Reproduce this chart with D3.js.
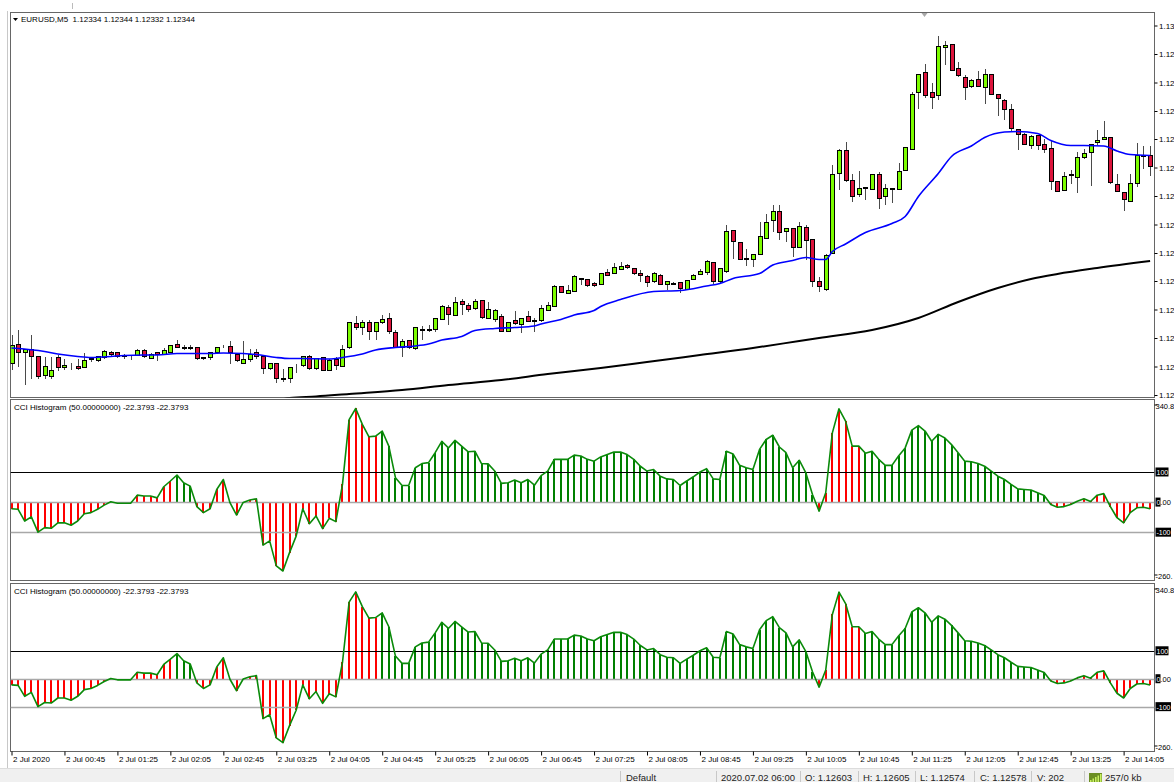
<!DOCTYPE html>
<html>
<head>
<meta charset="utf-8">
<script src="https://cdn.jsdelivr.net/npm/d3@7"></script>
<style>
html, body { margin: 0; padding: 0; background: #fff; overflow: hidden; }
svg { display: block; font-family: "Liberation Sans", Arial, sans-serif; }
</style>
</head>
<body>
<svg id="chart" width="1174" height="782"></svg>
<script>
// EURUSD M5, 2 Jul 2020, bars 00:05 .. 14:25
const open = [
 1.12333,1.12371,1.12355,1.12361,1.12347,1.12311,1.12307,1.12345,1.12325,1.12326,
 1.12327,1.12325,1.12343,1.12339,1.12345,1.12355,1.12355,1.12348,1.12349,1.12349,
 1.12360,1.12345,1.12355,1.12353,1.12355,1.12373,1.12365,1.12366,1.12365,1.12344,
 1.12345,1.12355,1.12367,1.12368,1.12352,1.12333,1.12343,1.12355,1.12347,1.12323,
 1.12333,1.12303,1.12303,1.12328,1.12328,1.12347,1.12323,1.12345,1.12320,1.12341,
 1.12328,1.12365,1.12413,1.12407,1.12415,1.12397,1.12415,1.12423,1.12397,1.12367,
 1.12379,1.12363,1.12401,1.12402,1.12401,1.12421,1.12445,1.12428,1.12457,1.12450,
 1.12443,1.12459,1.12423,1.12423,1.12427,1.12398,1.12419,1.12412,1.12428,1.12419,
 1.12419,1.12441,1.12448,1.12487,1.12475,1.12477,1.12503,1.12501,1.12495,1.12492,
 1.12515,1.12513,1.12523,1.12530,1.12523,1.12513,1.12508,1.12497,1.12510,1.12492,
 1.12492,1.12496,1.12483,1.12501,1.12513,1.12517,1.12535,1.12497,1.12518,1.12599,
 1.12575,1.12543,1.12543,1.12552,1.12585,1.12619,1.12637,1.12598,1.12603,1.12567,
 1.12607,1.12581,1.12497,1.12481,1.12553,1.12713,1.12759,1.12700,1.12672,1.12685,
 1.12681,1.12712,1.12667,1.12682,1.12681,1.12720,1.12761,1.12875,1.12915,1.12875,
 1.12870,1.12965,1.12973,1.12923,1.12905,1.12887,1.12901,1.12885,1.12911,1.12871,
 1.12861,1.12841,1.12802,1.12792,1.12771,1.12790,1.12773,1.12763,1.12697,1.12680,
 1.12710,1.12705,1.12745,1.12755,1.12775,1.12781,1.12785,1.12691,1.12675,1.12658,
 1.12695,1.12748,1.12749
];
const high = [
 1.12390,1.12400,1.12363,1.12390,1.12347,1.12347,1.12347,1.12351,1.12343,1.12335,
 1.12343,1.12355,1.12347,1.12349,1.12361,1.12358,1.12355,1.12353,1.12351,1.12362,
 1.12363,1.12355,1.12355,1.12365,1.12371,1.12380,1.12371,1.12371,1.12365,1.12347,
 1.12355,1.12367,1.12370,1.12379,1.12353,1.12378,1.12363,1.12362,1.12347,1.12335,
 1.12333,1.12323,1.12325,1.12333,1.12349,1.12350,1.12345,1.12347,1.12342,1.12347,
 1.12370,1.12417,1.12428,1.12420,1.12420,1.12415,1.12430,1.12435,1.12401,1.12383,
 1.12381,1.12405,1.12408,1.12410,1.12423,1.12450,1.12450,1.12467,1.12463,1.12455,
 1.12463,1.12459,1.12457,1.12443,1.12433,1.12417,1.12439,1.12423,1.12439,1.12425,
 1.12451,1.12457,1.12490,1.12489,1.12491,1.12510,1.12505,1.12503,1.12497,1.12515,
 1.12523,1.12535,1.12537,1.12532,1.12525,1.12520,1.12510,1.12517,1.12512,1.12497,
 1.12497,1.12496,1.12500,1.12512,1.12523,1.12541,1.12537,1.12523,1.12611,1.12600,
 1.12575,1.12563,1.12552,1.12617,1.12633,1.12650,1.12650,1.12603,1.12603,1.12617,
 1.12610,1.12581,1.12507,1.12553,1.12730,1.12763,1.12777,1.12713,1.12719,1.12687,
 1.12713,1.12717,1.12692,1.12685,1.12735,1.12765,1.12877,1.12912,1.12933,1.12895,
 1.12988,1.12978,1.12973,1.12937,1.12910,1.12902,1.12918,1.12923,1.12911,1.12871,
 1.12863,1.12853,1.12802,1.12795,1.12790,1.12790,1.12783,1.12780,1.12697,1.12717,
 1.12720,1.12757,1.12763,1.12771,1.12800,1.12818,1.12787,1.12713,1.12675,1.12713,
 1.12775,1.12768,1.12768
];
const low = [
 1.12320,1.12327,1.12290,1.12303,1.12302,1.12303,1.12302,1.12318,1.12320,1.12320,
 1.12321,1.12325,1.12337,1.12337,1.12343,1.12347,1.12345,1.12343,1.12340,1.12348,
 1.12345,1.12344,1.12339,1.12351,1.12354,1.12365,1.12361,1.12361,1.12340,1.12341,
 1.12341,1.12354,1.12365,1.12333,1.12337,1.12333,1.12337,1.12343,1.12312,1.12321,
 1.12295,1.12297,1.12295,1.12315,1.12327,1.12320,1.12320,1.12318,1.12318,1.12321,
 1.12327,1.12363,1.12401,1.12390,1.12380,1.12380,1.12413,1.12393,1.12365,1.12347,
 1.12363,1.12360,1.12380,1.12397,1.12397,1.12420,1.12410,1.12428,1.12430,1.12437,
 1.12440,1.12423,1.12422,1.12417,1.12397,1.12396,1.12410,1.12395,1.12417,1.12397,
 1.12417,1.12440,1.12446,1.12475,1.12475,1.12477,1.12490,1.12487,1.12487,1.12490,
 1.12508,1.12512,1.12520,1.12523,1.12511,1.12497,1.12487,1.12495,1.12490,1.12481,
 1.12490,1.12475,1.12480,1.12500,1.12512,1.12510,1.12493,1.12493,1.12515,1.12543,
 1.12540,1.12528,1.12527,1.12552,1.12585,1.12597,1.12580,1.12577,1.12547,1.12567,
 1.12540,1.12487,1.12477,1.12479,1.12553,1.12681,1.12697,1.12657,1.12667,1.12660,
 1.12680,1.12643,1.12650,1.12655,1.12681,1.12718,1.12760,1.12843,1.12865,1.12843,
 1.12861,1.12930,1.12920,1.12907,1.12860,1.12885,1.12887,1.12853,1.12870,1.12828,
 1.12821,1.12797,1.12760,1.12770,1.12763,1.12761,1.12755,1.12680,1.12677,1.12679,
 1.12693,1.12675,1.12743,1.12688,1.12770,1.12781,1.12693,1.12677,1.12639,1.12657,
 1.12687,1.12723,1.12708
];
const close = [
 1.12370,1.12355,1.12361,1.12347,1.12307,1.12329,1.12320,1.12325,1.12330,1.12325,
 1.12322,1.12340,1.12344,1.12347,1.12357,1.12351,1.12347,1.12349,1.12349,1.12360,
 1.12347,1.12353,1.12351,1.12360,1.12369,1.12366,1.12366,1.12365,1.12343,1.12345,
 1.12355,1.12365,1.12366,1.12355,1.12339,1.12341,1.12353,1.12347,1.12323,1.12333,
 1.12303,1.12304,1.12325,1.12329,1.12347,1.12323,1.12343,1.12320,1.12340,1.12328,
 1.12363,1.12415,1.12405,1.12417,1.12397,1.12415,1.12421,1.12397,1.12367,1.12378,
 1.12365,1.12405,1.12402,1.12399,1.12423,1.12448,1.12430,1.12455,1.12452,1.12443,
 1.12457,1.12425,1.12442,1.12440,1.12398,1.12415,1.12413,1.12423,1.12418,1.12418,
 1.12443,1.12450,1.12488,1.12475,1.12480,1.12507,1.12500,1.12490,1.12491,1.12513,
 1.12510,1.12525,1.12528,1.12525,1.12513,1.12508,1.12497,1.12513,1.12492,1.12497,
 1.12495,1.12485,1.12500,1.12510,1.12518,1.12538,1.12497,1.12523,1.12598,1.12577,
 1.12541,1.12544,1.12552,1.12588,1.12617,1.12637,1.12595,1.12603,1.12565,1.12608,
 1.12581,1.12497,1.12487,1.12550,1.12712,1.12759,1.12700,1.12667,1.12685,1.12686,
 1.12712,1.12663,1.12683,1.12683,1.12717,1.12765,1.12872,1.12912,1.12870,1.12865,
 1.12968,1.12970,1.12921,1.12908,1.12885,1.12900,1.12887,1.12911,1.12871,1.12863,
 1.12842,1.12802,1.12792,1.12772,1.12788,1.12770,1.12763,1.12697,1.12678,1.12708,
 1.12711,1.12745,1.12753,1.12771,1.12780,1.12785,1.12695,1.12678,1.12660,1.12695,
 1.12750,1.12749,1.12728
];

// moving averages, read at bar positions
const maFastBars = [0,5,7,10,12,15,17,20,22,25,27,30,32,35,37,40,42,44,48,50,53,55,58,61,63,65,68,70,73,76,79,80,83,85,88,89,92,97,101,105,107,109,113,115,118,120,122,123,124,126,129,133,135,137,140,142,145,147,150,152,155,157,160,162,165,167,169,172];
const maFastVals = [1.12364,1.12357,1.12352,1.12347,1.12345,1.12347,1.12349,1.12350,1.12350,1.12353,1.12353,1.12353,1.12354,1.12353,1.12351,1.12345,1.12343,1.12343,1.12342,1.12345,1.12352,1.12360,1.12365,1.12368,1.12372,1.12380,1.12387,1.12399,1.12403,1.12405,1.12408,1.12412,1.12421,1.12430,1.12439,1.12447,1.12461,1.12477,1.12479,1.12488,1.12493,1.12503,1.12513,1.12530,1.12539,1.12545,1.12541,1.12541,1.12557,1.12572,1.12595,1.12613,1.12627,1.12667,1.12713,1.12747,1.12768,1.12785,1.12796,1.12797,1.12793,1.12779,1.12769,1.12769,1.12768,1.12758,1.12751,1.12749];
const maSlowBars = [40,42,46,51,59,66,74,81,89,96,104,112,119,122,130,137,143,149,154,158,164,172];
const maSlowVals = [1.12258,1.12264,1.12267,1.12272,1.12280,1.12290,1.12300,1.12312,1.12324,1.12336,1.12350,1.12364,1.12378,1.12384,1.12400,1.12424,1.12456,1.12484,1.12502,1.12512,1.12524,1.12538];

// CCI histogram (50)
const cci = [
 -22,-24,-63,-49,-100,-85,-87,-69,-69,-77,
 -63,-39,-35,-24,-10,1,-4,-4,-4,23,
 20,20,14,51,70,90,64,53,-15,-35,
 -22,42,75,-2,-43,-1,7,11,-143,-129,
 -212,-229,-168,-113,-22,-72,-46,-88,-54,-65,
 59,274,311,258,217,219,236,186,81,55,
 55,114,128,131,164,202,180,205,186,167,
 169,128,127,103,62,64,73,64,75,56,
 88,103,142,142,142,156,153,142,136,150,
 158,166,166,158,142,119,103,108,86,77,
 75,55,70,84,100,111,77,75,169,160,
 122,114,108,175,208,222,183,164,114,139,
 97,25,-30,31,230,310,269,186,186,162,
 169,142,122,122,153,180,239,254,236,202,
 225,213,191,164,136,134,128,119,103,86,
 75,59,44,42,40,31,22,-8,-17,-15,
 -8,3,11,2,23,28,-15,-52,-69,-35,
 -19,-17,-22.3793
];
const cciGreenRanges = [[25,27],[56,121],[129,156]];
const cciLevels = [100, 0, -100];
const cciRange = [-260.5412, 340.8176];

const priceTicks = [1.13009,1.12952,1.12895,1.12838,1.12782,1.12725,1.12668,1.12611,1.12554,1.12498,1.12441,1.12384,1.12327,1.12270];
const timeLabelBars = [0,8,16,24,32,40,48,56,64,72,80,88,96,104,112,120,128,136,144,152,160,168];
const timeLabels = ["2 Jul 2020","2 Jul 00:45","2 Jul 01:25","2 Jul 02:05","2 Jul 02:45","2 Jul 03:25","2 Jul 04:05","2 Jul 04:45","2 Jul 05:25","2 Jul 06:05","2 Jul 06:45","2 Jul 07:25","2 Jul 08:05","2 Jul 08:45","2 Jul 09:25","2 Jul 10:05","2 Jul 10:45","2 Jul 11:25","2 Jul 12:05","2 Jul 12:45","2 Jul 13:25","2 Jul 14:05"];
const statusItems = ["Default","2020.07.02 06:00","O: 1.12603","H: 1.12605","L: 1.12574","C: 1.12578","V: 202","257/0 kb"];

const svg = d3.select("#chart")
const left = 10.5, right = 1154.5
const mainTop = 12.5, mainBot = 397.5
const panes = [{top: 399.5, bot: 580.5}, {top: 583.5, bot: 751.5}]

const x = d3.scaleLinear().domain([0, 172]).range([11.5, 1150.1])
const y = d3.scaleLinear().domain([1.12265, 1.13034]).range([397.5, 13])

const isGreen = i => cciGreenRanges.some(r => i >= r[0] && i <= r[1])
// the terminal's narrow price column only shows the first characters
const cut = (s, n) => String(s).slice(0, n)

// frame
svg.append("line").attr("x1", 7.5).attr("x2", 7.5).attr("y1", 11).attr("y2", 768).attr("stroke", "#c8c8c8")
svg.append("line").attr("x1", 72.5).attr("x2", 72.5).attr("y1", 3).attr("y2", 9).attr("stroke", "#bbb")

const defs = svg.append("defs")
defs.append("clipPath").attr("id", "clipMain").append("rect")
    .attr("x", left).attr("y", mainTop).attr("width", right - left).attr("height", mainBot - mainTop)

svg.append("rect").attr("x", left).attr("y", mainTop).attr("width", right - left).attr("height", mainBot - mainTop)
    .attr("fill", "#fff").attr("stroke", "#666")

const main = svg.append("g").attr("clip-path", "url(#clipMain)")

// candles
const bars = d3.range(open.length).map(i => ({i, o: open[i], h: high[i], l: low[i], c: close[i]}))
const cg = main.append("g").attr("shape-rendering", "crispEdges")
cg.selectAll(".wick").data(bars).enter().append("line")
    .attr("x1", d => Math.round(x(d.i)) + 0.5).attr("x2", d => Math.round(x(d.i)) + 0.5)
    .attr("y1", d => y(d.h)).attr("y2", d => y(d.l))
    .attr("stroke", "#4a4a4a")
cg.selectAll(".body").data(bars).enter().append("rect")
    .attr("x", d => Math.round(x(d.i)) - 1.5)
    .attr("width", 4)
    .attr("y", d => Math.round(y(Math.max(d.o, d.c))) + 0.5)
    .attr("height", d => Math.max(0, Math.round(Math.abs(y(d.o) - y(d.c)))))
    .attr("fill", d => d.c > d.o ? "#7cfc00" : d.c < d.o ? "#dc143c" : "#000")
    .attr("stroke", "#000")

// moving averages
const maLine = d3.line().x(d => x(d[0])).y(d => y(d[1])).curve(d3.curveMonotoneX)
main.append("path").datum(d3.zip(maSlowBars, maSlowVals)).attr("d", maLine)
    .attr("fill", "none").attr("stroke", "#000").attr("stroke-width", 2)
main.append("path").datum(d3.zip(maFastBars, maFastVals)).attr("d", maLine)
    .attr("fill", "none").attr("stroke", "#0000ff").attr("stroke-width", 1.6)

// shift marker
svg.append("path").attr("d", "M921.5,13 L927.5,13 L924.5,17 Z").attr("fill", "#a8a8a8")

// header
svg.append("path").attr("d", "M13,18 L18,18 L15.5,21 Z").attr("fill", "#000")
svg.append("text").attr("x", 21).attr("y", 22).attr("font-size", 8).attr("fill", "#000")
    .text("EURUSD,M5\u00a0\u00a01.12334 1.12344 1.12332 1.12344")

// price axis
const yAxis = d3.axisRight(y).tickValues(priceTicks).tickSize(3).tickPadding(1.5).tickFormat(d => cut(d.toFixed(5), 4))
const ya = svg.append("g").attr("transform", `translate(${right},0)`).call(yAxis)
ya.select(".domain").remove()
ya.selectAll("text").attr("font-size", 8).attr("font-family", "Liberation Sans, Arial, sans-serif").attr("fill", "#000")
ya.selectAll("line").attr("stroke", "#000")

// CCI panes
panes.forEach((p, k) => {
    const cy = d3.scaleLinear().domain(cciRange).range([p.bot, p.top])
    const id = "clipPane" + k
    defs.append("clipPath").attr("id", id).append("rect")
        .attr("x", left).attr("y", p.top).attr("width", right - left).attr("height", p.bot - p.top)
    svg.append("rect").attr("x", left).attr("y", p.top).attr("width", right - left).attr("height", p.bot - p.top)
        .attr("fill", "#fff").attr("stroke", "#666")
    const g = svg.append("g").attr("clip-path", `url(#${id})`)

    g.append("g").attr("shape-rendering", "crispEdges")
        .selectAll("rect").data(cci).enter().append("rect")
        .attr("x", (v, i) => Math.round(x(i)) - 1)
        .attr("width", 2)
        .attr("y", v => cy(Math.max(v, 0)))
        .attr("height", v => Math.abs(cy(v) - cy(0)))
        .attr("fill", (v, i) => isGreen(i) ? "#008000" : "#ff0000")

    g.selectAll(".lvl").data(cciLevels).enter().append("line")
        .attr("x1", left).attr("x2", right)
        .attr("y1", v => Math.round(cy(v)) + 0.5).attr("y2", v => Math.round(cy(v)) + 0.5)
        .attr("stroke", v => v > 0 ? "#000" : "#a8a8a8")
        .attr("stroke-width", v => v > 0 ? 1 : 1.6)

    g.append("path").datum(cci)
        .attr("d", d3.line().x((v, i) => x(i)).y(v => cy(v)))
        .attr("fill", "none").attr("stroke", "#0a8a0a").attr("stroke-width", 1.6).attr("stroke-linejoin", "round")

    svg.append("text").attr("x", 14).attr("y", p.top + 10).attr("font-size", 8)
        .text("CCI Histogram (50.00000000) -22.3793 -22.3793")

    // scale labels
    svg.append("text").attr("x", 1155.5).attr("y", p.top + 9).attr("font-size", 7.5).text(cut(cciRange[1].toFixed(4), 5))
    svg.append("text").attr("x", 1155.5).attr("y", p.bot - 2).attr("font-size", 7.5).text(cut(cciRange[0].toFixed(4), 5))
    svg.append("line").attr("x1", right).attr("x2", right + 3).attr("y1", p.top + 5.5).attr("y2", p.top + 5.5).attr("stroke", "#000")
    svg.append("line").attr("x1", right).attr("x2", right + 3).attr("y1", p.bot - 5.5).attr("y2", p.bot - 5.5).attr("stroke", "#000")

    cciLevels.forEach(v => {
        const yy = cy(v)
        const txt = v === 0 ? "0" : String(v)
        const w = v === 0 ? 5 : (v < 0 ? 15.5 : 13)
        svg.append("rect").attr("x", 1155.5).attr("y", yy - 4.5).attr("width", w).attr("height", 9).attr("fill", "#000")
        svg.append("text").attr("x", 1156.5).attr("y", yy + 3).attr("font-size", 7).attr("fill", "#fff").text(txt)
        if (v === 0) svg.append("text").attr("x", 1160.5).attr("y", yy + 3).attr("font-size", 7.5).attr("fill", "#000").text(".00")
    })
})

// time axis
const xAxis = d3.axisBottom(x).tickValues(timeLabelBars).tickSize(4).tickPadding(1)
    .tickFormat((d, k) => timeLabels[k])
const xa = svg.append("g").attr("transform", `translate(0,${panes[1].bot})`).call(xAxis)
xa.select(".domain").remove()
xa.selectAll("line").attr("stroke", "#000")
xa.selectAll("text").attr("font-size", 8).attr("font-family", "Liberation Sans, Arial, sans-serif")
    .attr("fill", "#000").attr("text-anchor", "start").attr("dx", 1)

// status bar
svg.append("rect").attr("x", 0).attr("y", 769).attr("width", 1174).attr("height", 13).attr("fill", "#f0f0f0")
svg.append("line").attr("x1", 0).attr("x2", 1174).attr("y1", 768.5).attr("y2", 768.5).attr("stroke", "#dcdcdc")
const sepX = [620, 716, 800, 858, 915, 974, 1031, 1084]
sepX.forEach(sx => svg.append("line").attr("x1", sx + 0.5).attr("x2", sx + 0.5).attr("y1", 771).attr("y2", 782).attr("stroke", "#c8c8c8"))
const statusX = [626, 721, 805, 863, 920, 980, 1037, 1105]
statusItems.forEach((s, k) => svg.append("text").attr("x", statusX[k]).attr("y", 780.5).attr("font-size", 9.5).attr("fill", "#222").text(s))
// connection icon
const icon = svg.append("g")
icon.append("rect").attr("x", 1089).attr("y", 773).attr("width", 13).attr("height", 9).attr("fill", "#6b8e23")
d3.range(5).forEach(k => icon.append("rect").attr("x", 1090 + k * 2.5).attr("y", 782 - (2 + k * 1.5)).attr("width", 1.5).attr("height", 2 + k * 1.5).attr("fill", "#c8f060"))
</script>
</body>
</html>
